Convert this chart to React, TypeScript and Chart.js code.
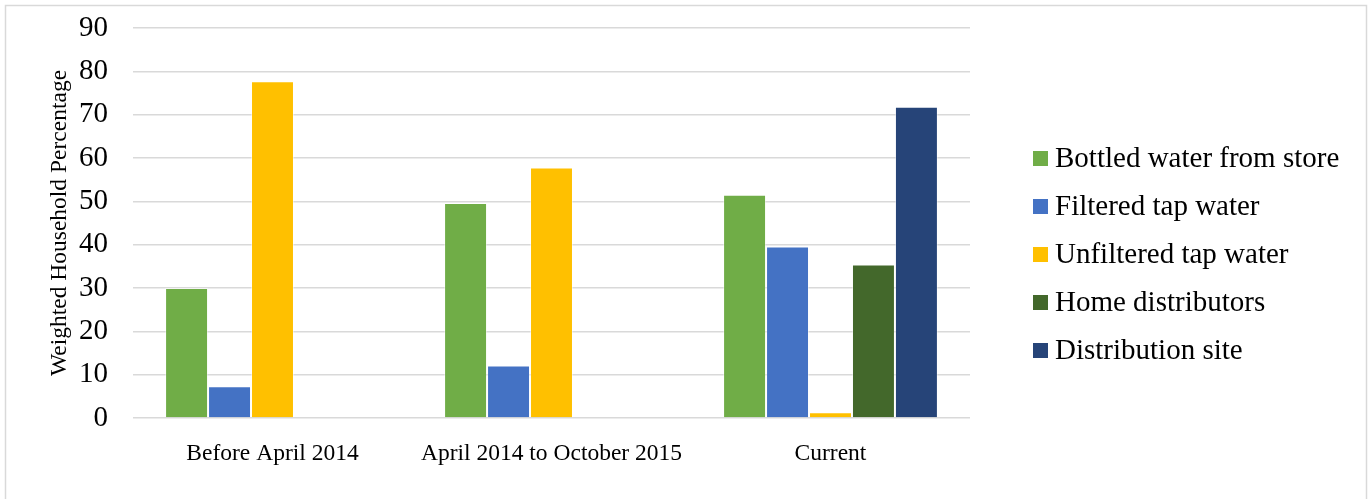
import React, { useEffect, useRef } from "react";
import { Chart, registerables } from "chart.js";

Chart.register(...registerables);

const categories = ["Before April 2014", "April 2014 to October 2015", "Current"];
const seriesNames = [
  "Bottled water from store",
  "Filtered tap water",
  "Unfiltered tap water",
  "Home distributors",
  "Distribution site",
];
const bottledWater = [30, 49.6, 51.5];
const filteredTap = [7.3, 12.1, 39.6];
const unfilteredTap = [77.7, 57.8, 1.3];
const homeDistributors = [null, null, 35.4];
const distributionSite = [null, null, 71.8];
const seriesColors = ["#70AD47", "#4472C4", "#FFC000", "#43682B", "#264478"];
const yTicks = [0, 10, 20, 30, 40, 50, 60, 70, 80, 90];
const yTitle = "Weighted Household Percentage";

const SERIF = "'Liberation Serif', 'Times New Roman', serif";

const frameAndLegend = {
  id: "frameAndLegend",
  beforeDraw(chart: any) {
    const ctx = chart.ctx;
    ctx.save();
    ctx.fillStyle = "#ffffff";
    ctx.fillRect(0, 0, chart.width, chart.height);
    ctx.strokeStyle = "#d9d9d9";
    ctx.lineWidth = 1.5;
    ctx.strokeRect(5.5, 5.5, 1361, 520);
    ctx.restore();
  },
  afterDraw(chart: any) {
    const ctx = chart.ctx;
    const ds = chart.data.datasets;
    const x0 = chart.chartArea.right + 63;
    const spacing = 48;
    const center = chart.height / 2 + 5;
    const y0 = center - ((ds.length - 1) * spacing) / 2;
    ctx.save();
    ctx.font = `29px ${SERIF}`;
    ctx.textBaseline = "middle";
    ctx.textAlign = "left";
    ds.forEach((d: any, i: number) => {
      const y = y0 + i * spacing;
      ctx.fillStyle = d.backgroundColor;
      ctx.fillRect(x0, y - 7.5, 15, 15);
      ctx.fillStyle = "#000000";
      ctx.fillText(d.label, x0 + 22, y + 1);
    });
    ctx.restore();
  },
};

export default function App() {
  const ref = useRef<HTMLCanvasElement | null>(null);
  useEffect(() => {
    document.body.style.margin = "0";
    const canvas = ref.current;
    if (!canvas) return;
    const seriesValues = [bottledWater, filteredTap, unfilteredTap, homeDistributors, distributionSite];
    const chart = new Chart(canvas, {
      type: "bar",
      data: {
        labels: categories,
        datasets: seriesNames.map((name, i) => ({
          label: name,
          data: seriesValues[i],
          backgroundColor: seriesColors[i],
          borderColor: "rgba(255,255,255,0.45)",
          borderWidth: 1,
          categoryPercentage: 0.77,
          barPercentage: 1.0,
        })),
      },
      options: {
        responsive: false,
        animation: false,
        layout: { padding: { left: 0, top: 28, right: 402, bottom: 0 } },
        plugins: {
          legend: { display: false },
          tooltip: { enabled: false },
        },
        scales: {
          x: {
            grid: { display: false },
            border: { display: false },
            ticks: {
              color: "#000000",
              font: { family: SERIF, size: 23.5 },
              padding: 14,
              maxRotation: 0,
            },
            afterFit: (s: any) => {
              s.height = 81;
              s.paddingLeft = 0;
              s.paddingRight = 0;
            },
          },
          y: {
            min: 0,
            max: 90,
            afterBuildTicks: (s: any) => {
              s.ticks = yTicks.map((v) => ({ value: v }));
            },
            grid: { color: "#d9d9d9", lineWidth: 1.5, drawTicks: false },
            border: { display: false },
            ticks: {
              color: "#000000",
              font: { family: SERIF, size: 29 },
              padding: 25,
            },
            title: {
              display: true,
              text: yTitle,
              color: "#000000",
              font: { family: SERIF, size: 23.5 },
              padding: { top: 46, bottom: 0 },
            },
            afterFit: (s: any) => {
              s.width = 133;
              s.paddingTop = 0;
              s.paddingBottom = 0;
            },
          },
        },
      },
      plugins: [frameAndLegend],
    });
    return () => chart.destroy();
  }, []);
  return (
    <div style={{ width: 1372, height: 499, overflow: "hidden" }}>
      <canvas ref={ref} width={1372} height={499} style={{ display: "block" }} />
    </div>
  );
}
